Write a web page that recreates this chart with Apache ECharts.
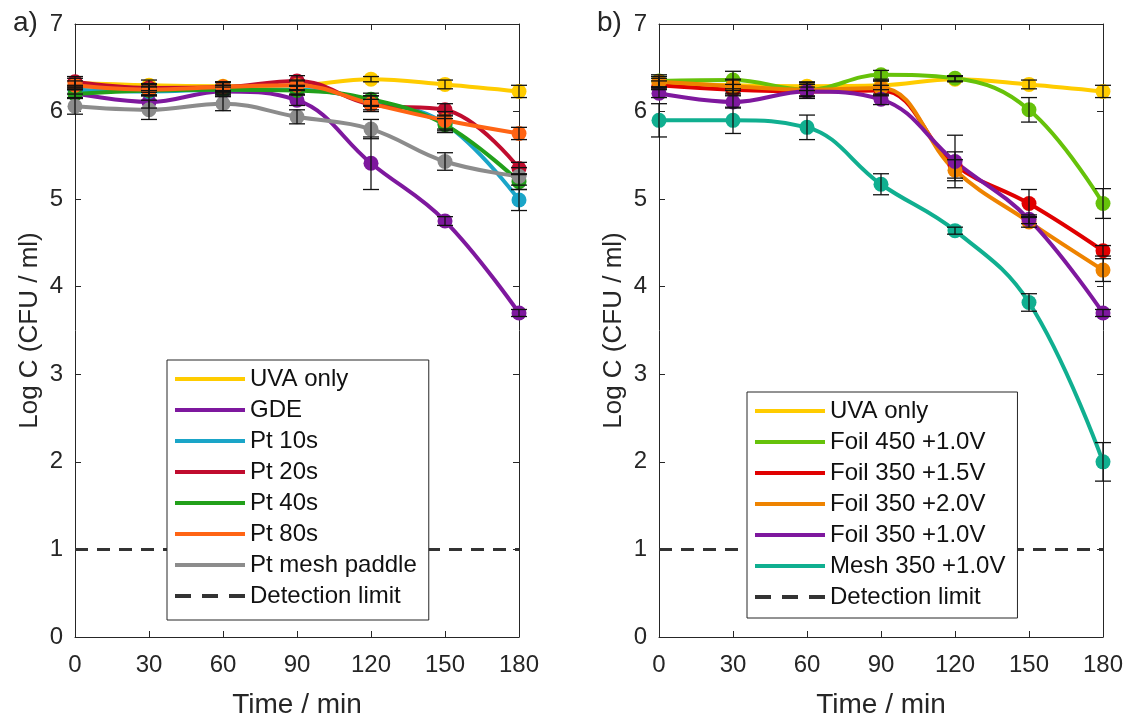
<!DOCTYPE html>
<html>
<head>
<meta charset="utf-8">
<style>
  html, body { margin: 0; padding: 0; background: #fff; }
  #chart { width: 1127px; height: 716px; }
</style>
<script src="https://cdn.jsdelivr.net/npm/echarts@6/dist/echarts.min.js"></script>
</head>
<body>
<div id="chart"></div>
<script>
// Sampling times (min)
const times = [0, 30, 60, 90, 120, 150, 180];
const xTicks = [0, 30, 60, 90, 120, 150, 180];
const yTicks = [0, 1, 2, 3, 4, 5, 6, 7];
const detectionLimit = 1;

// Panel a) – log C (CFU / ml) and standard deviations
const uvaOnly      = [6.33, 6.30, 6.29, 6.30, 6.37, 6.31, 6.23];
const uvaOnlyErr   = [0.05, 0.06, 0.05, 0.05, 0.03, 0.05, 0.07];
const gde          = [6.21, 6.11, 6.23, 6.13, 5.41, 4.75, 3.70];
const gdeErr       = [0.05, 0.07, 0.05, 0.06, 0.30, 0.05, 0.04];
const pt10         = [6.25, 6.23, 6.25, 6.25, 6.12, 5.86, 4.99];
const pt10Err      = [0.05, 0.05, 0.05, 0.05, 0.06, 0.10, 0.12];
const pt20         = [6.34, 6.27, 6.28, 6.35, 6.08, 6.02, 5.35];
const pt20Err      = [0.06, 0.05, 0.05, 0.06, 0.06, 0.07, 0.07];
const pt40         = [6.20, 6.24, 6.25, 6.24, 6.14, 5.85, 5.20];
const pt40Err      = [0.05, 0.05, 0.05, 0.05, 0.07, 0.07, 0.09];
const pt80         = [6.30, 6.25, 6.28, 6.30, 6.09, 5.90, 5.75];
const pt80Err      = [0.05, 0.06, 0.06, 0.06, 0.09, 0.10, 0.07];
const ptMesh       = [6.06, 6.02, 6.09, 5.94, 5.80, 5.43, 5.26];
const ptMeshErr    = [0.09, 0.11, 0.08, 0.08, 0.11, 0.10, 0.10];

// Panel b) – log C (CFU / ml) and standard deviations
const foil450v10    = [6.35, 6.36, 6.25, 6.42, 6.38, 6.02, 4.95];
const foil450v10Err = [0.07, 0.10, 0.08, 0.05, 0.03, 0.14, 0.17];
const foil350v15    = [6.30, 6.25, 6.23, 6.24, 5.39, 4.95, 4.41];
const foil350v15Err = [0.05, 0.06, 0.08, 0.06, 0.15, 0.16, 0.06];
const foil350v20    = [6.34, 6.29, 6.25, 6.27, 5.33, 4.74, 4.19];
const foil350v20Err = [0.06, 0.08, 0.08, 0.08, 0.12, 0.06, 0.13];
const foil350v10    = [6.21, 6.11, 6.23, 6.14, 5.43, 4.77, 3.70];
const foil350v10Err = [0.05, 0.07, 0.05, 0.06, 0.30, 0.05, 0.04];
const mesh350v10    = [5.90, 5.90, 5.82, 5.17, 4.64, 3.82, 2.00];
const mesh350v10Err = [0.19, 0.15, 0.14, 0.12, 0.04, 0.10, 0.22];

const FONT = 'Liberation Sans, Arial, Helvetica, sans-serif';
const INK = '#262626';

const panelA = [
  { name: 'UVA only',        color: '#FFCC00', y: uvaOnly, e: uvaOnlyErr },
  { name: 'GDE',             color: '#7E189E', y: gde,     e: gdeErr },
  { name: 'Pt 10s',          color: '#1AA5C8', y: pt10,    e: pt10Err },
  { name: 'Pt 20s',          color: '#C00C2E', y: pt20,    e: pt20Err },
  { name: 'Pt 40s',          color: '#22A01A', y: pt40,    e: pt40Err },
  { name: 'Pt 80s',          color: '#FF6414', y: pt80,    e: pt80Err },
  { name: 'Pt mesh paddle',  color: '#8C8C8C', y: ptMesh,  e: ptMeshErr }
];
const panelB = [
  { name: 'UVA only',        color: '#FFCC00', y: uvaOnly,    e: uvaOnlyErr },
  { name: 'Foil 450 +1.0V',  color: '#66C20A', y: foil450v10, e: foil450v10Err },
  { name: 'Foil 350 +1.5V',  color: '#E00000', y: foil350v15, e: foil350v15Err },
  { name: 'Foil 350 +2.0V',  color: '#EE8300', y: foil350v20, e: foil350v20Err },
  { name: 'Foil 350 +1.0V',  color: '#7E189E', y: foil350v10, e: foil350v10Err },
  { name: 'Mesh 350 +1.0V',  color: '#10AF90', y: mesh350v10, e: mesh350v10Err }
];

// Legend glyphs: a solid stroke and a three-dash stroke
const SOLID_ICON = 'path://M0,0H70V4H0Z';
const DASH_ICON = 'path://M0,0H16V4H0Z M27,0H43V4H27Z M54,0H70V4H54Z';

function pairs(ys) { return times.map((t, i) => [t, ys[i]]); }

// Vertical error bar with caps, drawn in data coordinates
function renderErrorBar(params, api) {
  const x = api.value(0), y = api.value(1), e = api.value(2);
  const top = api.coord([x, y + e]);
  const bot = api.coord([x, y - e]);
  const half = 8;
  const style = { stroke: '#111', lineWidth: 1.3 };
  return {
    type: 'group',
    children: [
      { type: 'line', shape: { x1: top[0], y1: top[1], x2: bot[0], y2: bot[1] }, style },
      { type: 'line', shape: { x1: top[0] - half, y1: top[1], x2: top[0] + half, y2: top[1] }, style },
      { type: 'line', shape: { x1: bot[0] - half, y1: bot[1], x2: bot[0] + half, y2: bot[1] }, style }
    ]
  };
}

function buildSeries(panel, idx) {
  const out = [];
  panel.forEach(s => {
    out.push({
      name: s.name, type: 'line', xAxisIndex: idx * 2, yAxisIndex: idx * 2,
      data: pairs(s.y), smooth: 0.4, symbol: 'none',
      lineStyle: { color: s.color, width: 4 }, itemStyle: { color: s.color },
      z: 3, silent: true
    });
    out.push({
      type: 'scatter', xAxisIndex: idx * 2, yAxisIndex: idx * 2,
      data: pairs(s.y), symbol: 'circle', symbolSize: 15,
      itemStyle: { color: s.color, opacity: 1 }, z: 3, silent: true
    });
  });
  const errData = [];
  panel.forEach(s => times.forEach((t, i) => errData.push([t, s.y[i], s.e[i]])));
  out.push({
    type: 'custom', xAxisIndex: idx * 2, yAxisIndex: idx * 2,
    renderItem: renderErrorBar, data: errData, z: 4, silent: true,
    encode: { x: 0, y: 1 }
  });
  out.push({
    name: 'Detection limit', type: 'line', xAxisIndex: idx * 2, yAxisIndex: idx * 2,
    data: [[xTicks[0], detectionLimit], [xTicks[xTicks.length - 1], detectionLimit]],
    symbol: 'none', lineStyle: { color: '#333', width: 3, type: [13, 9] },
    itemStyle: { color: '#333' }, z: 2, silent: true
  });
  return out;
}

const gridLefts = [75, 659];
const grids = gridLefts.map(l => ({
  left: l, top: 24, width: 444, height: 613,
  containLabel: false, outerBoundsMode: 'none'
}));

function xAxes(g) {
  const base = {
    type: 'value', gridIndex: g, min: xTicks[0], max: xTicks[xTicks.length - 1], interval: 30,
    splitLine: { show: false },
    axisLine: { show: true, onZero: false, lineStyle: { color: INK, width: 1 } },
    axisTick: { show: true, inside: true, length: 6, lineStyle: { color: INK } }
  };
  return [
    Object.assign({}, base, {
      position: 'bottom',
      name: 'Time / min', nameLocation: 'middle', nameGap: 54,
      nameTextStyle: { fontFamily: FONT, fontSize: 28, color: INK },
      axisLabel: { fontFamily: FONT, fontSize: 24, color: INK, margin: 16 }
    }),
    Object.assign({}, base, { position: 'top', axisLabel: { show: false } })
  ];
}
function yAxes(g) {
  const base = {
    type: 'value', gridIndex: g, min: yTicks[0], max: yTicks[yTicks.length - 1], interval: 1,
    splitLine: { show: false },
    axisLine: { show: true, onZero: false, lineStyle: { color: INK, width: 1 } },
    axisTick: { show: true, inside: true, length: 6, lineStyle: { color: INK } }
  };
  return [
    Object.assign({}, base, {
      position: 'left',
      name: 'Log C (CFU / ml)', nameLocation: 'middle', nameGap: 32, nameRotate: 90,
      nameTextStyle: { fontFamily: FONT, fontSize: 26, color: INK },
      axisLabel: { fontFamily: FONT, fontSize: 24, color: INK, margin: 12 }
    }),
    Object.assign({}, base, { position: 'right', axisLabel: { show: false } })
  ];
}

function legendFor(panel, left, top, padBottom) {
  const items = panel.map(s => ({ name: s.name, icon: SOLID_ICON }));
  items.push({ name: 'Detection limit', icon: DASH_ICON });
  return {
    orient: 'vertical', left, top,
    data: items,
    selectedMode: false,
    itemWidth: 70, itemHeight: 4, itemGap: 7,
    padding: [7, 12, padBottom, 8],
    backgroundColor: '#fff', borderColor: INK, borderWidth: 1, borderRadius: 0,
    textStyle: { fontFamily: FONT, fontSize: 24, lineHeight: 24, color: '#111' }
  };
}

const chart = echarts.init(document.getElementById('chart'), null, { renderer: 'canvas' });
chart.setOption({
  animation: false,
  backgroundColor: '#fff',
  title: [
    { text: 'a)', left: 8, top: 4, textStyle: { fontFamily: FONT, fontSize: 28, fontWeight: 'normal', color: INK } },
    { text: 'b)', left: 592, top: 4, textStyle: { fontFamily: FONT, fontSize: 28, fontWeight: 'normal', color: INK } }
  ],
  grid: grids,
  xAxis: xAxes(0).concat(xAxes(1)),
  yAxis: yAxes(0).concat(yAxes(1)),
  legend: [legendFor(panelA, 167, 360, 12), legendFor(panelB, 747, 392, 9)],
  series: buildSeries(panelA, 0).concat(buildSeries(panelB, 1))
});
</script>
</body>
</html>
